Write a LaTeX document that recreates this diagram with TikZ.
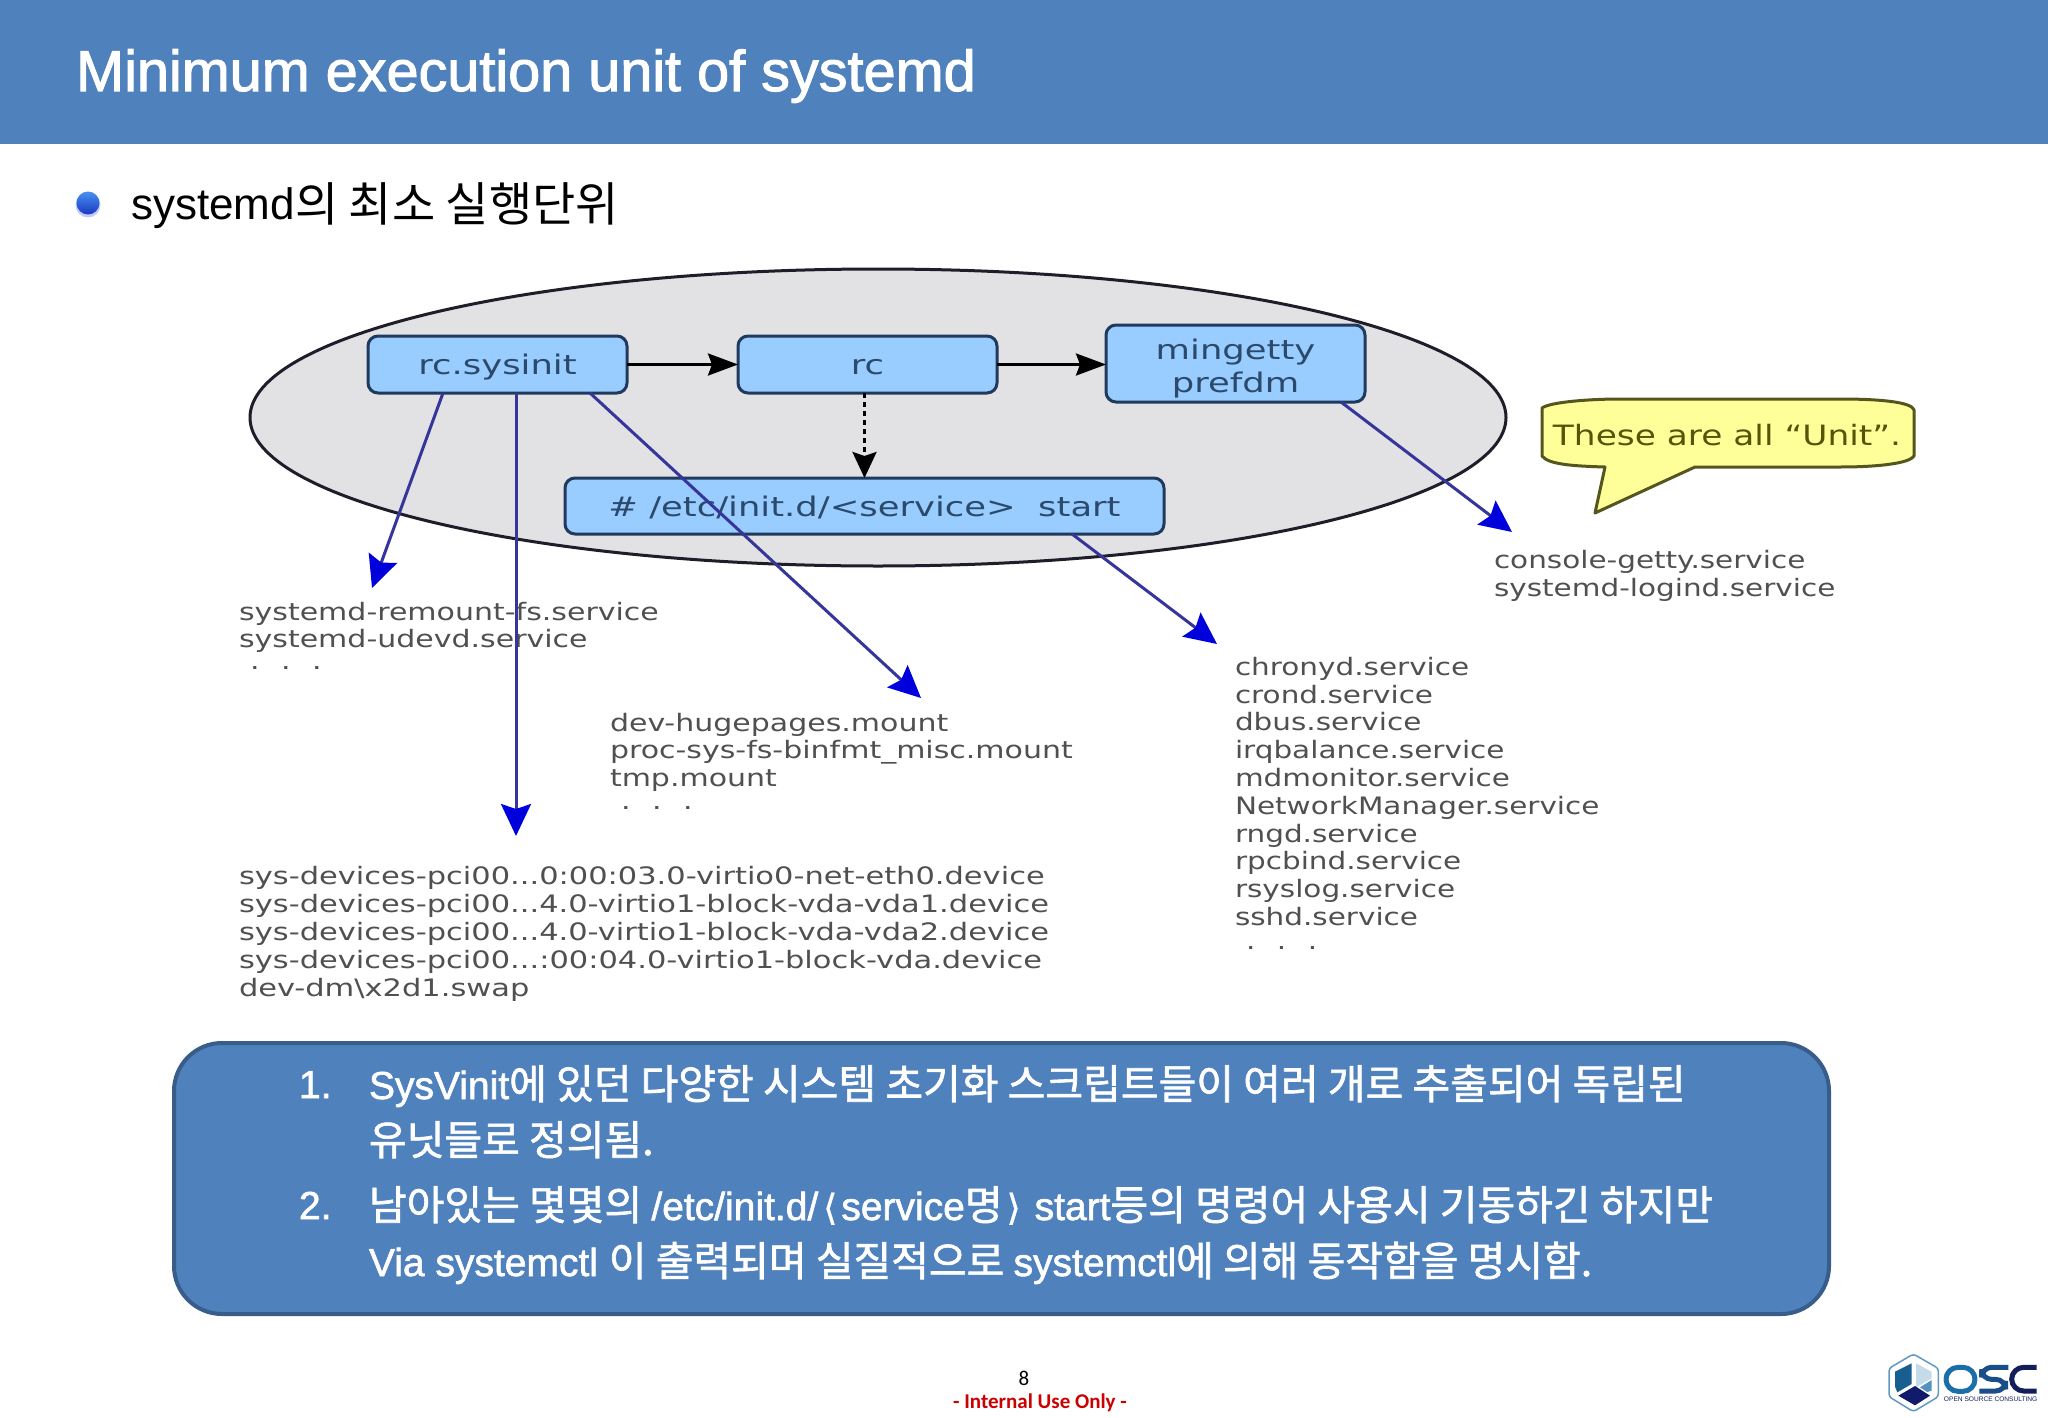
\documentclass[tikz,border=0pt]{standalone}
\usepackage{fontspec}
\usetikzlibrary{arrows.meta,shapes.geometric}
\setmainfont{Liberation Sans}
\newfontfamily\krfont{Noto Sans CJK KR}
\newfontfamily\titlefont[FakeBold=1.8]{Liberation Sans}
\newfontfamily\krbold[FakeBold=1.6]{Noto Sans CJK KR}
\newfontfamily\latbold[FakeBold=1.6]{Liberation Sans}
\newfontfamily\bracket[FakeBold=1]{DejaVu Sans}
\newfontfamily\veraunit[FakeStretch=1.31]{DejaVu Sans}
\newfontfamily\veralist[FakeStretch=1.25]{DejaVu Sans}
\newfontfamily\veralong[FakeStretch=1.27]{DejaVu Sans}
\newfontfamily\verawide[FakeStretch=1.228]{DejaVu Sans}
\newfontfamily\carlito{Carlito}
\newcommand{\FS}[2]{\fontsize{#1}{#2}\selectfont}
\newcommand{\KR}[1]{{\krfont\FS{47}{48}#1}}
\newcommand{\KB}[1]{{\krbold\FS{41}{44}#1}}
\newcommand{\LB}[1]{{\latbold\FS{39}{44}#1}}
\newcommand{\BR}[1]{{\bracket\FS{36}{44}#1}}
\newcommand{\threedots}{\hspace*{11pt}.\hspace{21.5pt}.\hspace{21.5pt}.}
\newcommand{\unitstrut}{\rule[-8pt]{0pt}{35pt}}
\definecolor{headblue}{HTML}{4F81BD}
\definecolor{boxedge}{HTML}{385D8A}
\definecolor{ellfill}{HTML}{E2E2E4}
\definecolor{ellline}{HTML}{1E1E2A}
\definecolor{unitfill}{HTML}{99CCFF}
\definecolor{unitline}{HTML}{1F3A5C}
\definecolor{unittext}{HTML}{2B4A6B}
\definecolor{listtext}{HTML}{505050}
\definecolor{linkline}{HTML}{35359A}
\definecolor{linkhead}{HTML}{0000DD}
\definecolor{callfill}{HTML}{FFFF99}
\definecolor{callline}{HTML}{55551E}
\definecolor{calltext}{HTML}{55550A}
\definecolor{logoblue}{HTML}{1C6EA8}
\definecolor{logonavy}{HTML}{141E5A}
\definecolor{balltop}{HTML}{4A90F0}
\definecolor{ballbot}{HTML}{1838C0}
\definecolor{ballhalo}{HTML}{C4C8FA}
\tikzset{
  unitbox/.style={draw=unitline,fill=unitfill,line width=3pt,rounded corners=10pt,inner sep=0pt,outer sep=0pt,text=unittext,align=center,font=\veraunit\FS{27}{32.6}},
  listtxt/.style={anchor=north west,inner sep=0pt,outer sep=0pt,align=left,text=listtext,font=\veralist\FS{24}{27.6}},
  flowlink/.style={line width=3pt,black,-{Stealth[length=30pt,width=22pt,inset=4pt]}},
  dotlink/.style={line width=3pt,black,dash pattern=on 5pt off 4pt,-{Stealth[length=26pt,width=24pt,inset=4pt]}},
  bluelink/.style={line width=3pt,linkline,-{Stealth[length=32pt,width=30pt,inset=5pt,color=linkhead,fill=linkhead]}},
  bodyline/.style={anchor=base west,inner sep=0pt,outer sep=0pt,text=white,font=\latbold\FS{39}{44}}
}
\begin{document}
\begin{tikzpicture}[x=1pt,y=-1pt]
\useasboundingbox (0,0) rectangle (2048,1418);
\fill[white] (0,0) rectangle (2048,1418);
% header
\fill[headblue] (0,0) rectangle (2048,144);
\node[anchor=base west,inner sep=0pt,text=white,font=\titlefont\FS{57.6}{60}] (title) at (76,91) {Minimum execution unit of systemd};
% bullet
\fill[ballhalo] (88,205) circle (12.5);
\shade[top color=balltop,bottom color=ballbot] (88,203) circle (11.5);
\node[anchor=base west,inner sep=0pt,font=\FS{44}{48}] (sub) at (131,219) {systemd\raisebox{-2pt}{\KR{의 최소 실행단위}}};
% ellipse
\node[ellipse,draw=ellline,fill=ellfill,line width=3pt,minimum width=1256pt,minimum height=297pt,inner sep=0pt,outer sep=0pt] (group) at (878,417.5) {};
% boxes
\node[unitbox,minimum width=259pt,minimum height=57pt] (sysinit) at (497.5,364.5) {\unitstrut rc.sysinit};
\node[unitbox,minimum width=259pt,minimum height=57pt] (rc) at (867.5,364.5) {\unitstrut rc};
\node[unitbox,minimum width=259pt,minimum height=77pt] (mingetty) at (1235.5,363.5) {\rule{0pt}{31pt}mingetty\\prefdm};
\node[unitbox,minimum width=599pt,minimum height=56pt] (initd) at (864.5,506) {\rule[-8pt]{0pt}{37.4pt}\# /etc/init.d/<service>\ \ start};
% lists
\node[listtxt] (listA) at (239,602) {systemd-remount-fs.service\\systemd-udevd.service\\[-6pt]\threedots};
\node[listtxt] (listB) at (610,713) {dev-hugepages.mount\\proc-sys-fs-binfmt\_misc.mount\\tmp.mount\\[-5pt]\threedots};
\node[listtxt,font=\veralong\FS{24}{28.1}] (listC) at (239,866) {sys-devices-pci00...0:00:03.0-virtio0-net-eth0.device\\sys-devices-pci00...4.0-virtio1-block-vda-vda1.device\\sys-devices-pci00...4.0-virtio1-block-vda-vda2.device\\sys-devices-pci00...:00:04.0-virtio1-block-vda.device\\dev-dm\textbackslash x2d1.swap};
\node[listtxt,font=\verawide\FS{24}{27.8}] (listD) at (1235,657) {chronyd.service\\crond.service\\dbus.service\\irqbalance.service\\mdmonitor.service\\NetworkManager.service\\rngd.service\\rpcbind.service\\rsyslog.service\\sshd.service\\[-4pt]\threedots};
\node[listtxt,font=\verawide\FS{24}{28.6}] (listE) at (1494,550) {console-getty.service\\systemd-logind.service};
% callout
\draw[fill=callfill,draw=callline,line width=3pt,line join=round] (1542,408) .. controls (1550,402) and (1590,399) .. (1620,399) -- (1840,399) .. controls (1880,399) and (1912,402) .. (1914,410) -- (1914,456) .. controls (1910,463) and (1880,467) .. (1840,467) -- (1695,467) -- (1595,513) -- (1605,467) .. controls (1570,466) and (1548,464) .. (1542,456) -- cycle;
\node[inner sep=0pt,text=calltext,font=\verawide\FS{28}{32}] (calltxt) at (1727,435) {These are all “Unit”.};
% free ends
\coordinate (endA) at (372,588);
\coordinate (endC) at (516,836);
\coordinate (endB) at (921,698);
\coordinate (endD) at (1217,644);
\coordinate (endE) at (1512,532);
% connectors
\draw[flowlink] (sysinit.east) -- (rc.west);
\draw[flowlink] (rc.east) -- (mingetty.west |- rc.east);
\draw[dotlink] (initd.north |- rc.south) -- (initd.north);
\draw[bluelink] ([xshift=75pt]sysinit.south west) -- (endA);
\draw[bluelink] ([xshift=148pt]sysinit.south west) -- (endC);
\draw[bluelink] ([xshift=222pt]sysinit.south west) -- (endB);
\draw[bluelink] ([xshift=507pt]initd.south west) -- (endD);
\draw[bluelink] ([xshift=235pt]mingetty.south west) -- (endE);
% bottom box
\node[draw=boxedge,fill=headblue,line width=4pt,rounded corners=48pt,minimum width=1655pt,minimum height=271pt,inner sep=0pt,outer sep=0pt] (note) at (1001.5,1178.5) {};
\node[bodyline] (n1) at (299,1098) {1.};
\node[bodyline] (l1) at (369,1099) {\LB{SysVinit}\KB{에 있던 다양한 시스템 초기화 스크립트들이 여러 개로 추출되어 독립된}};
\node[bodyline] (l2) at (369,1155) {\KB{유닛들로 정의됨.}};
\node[bodyline] (n2) at (299,1219) {2.};
\node[bodyline] (l3) at (369,1220) {\KB{남아있는 몇몇의 }\LB{/etc/init.d/}\hspace{5pt}\BR{⟨}\hspace{4pt}\LB{service}\KB{명}\hspace{4pt}\BR{⟩}\hspace{14pt}\LB{start}\KB{등의 명령어 사용시 기동하긴 하지만}};
\node[bodyline] (l4) at (369,1276) {\LB{Via systemctl }\KB{이 출력되며 실질적으로 }\LB{systemctl}\KB{에 의해 동작함을 명시함.}};
% footer
\node[inner sep=0pt,font=\carlito\FS{21}{24}] (page) at (1024,1378) {8};
\node[inner sep=0pt,text=red!80!black,font=\carlito\bfseries\FS{21}{24}] (only) at (1040,1403) {- Internal Use Only -};
% logo
\begin{scope}[shift={(1840,1330)},x=.3333pt,y=-.3333pt]
\draw[draw=logoblue!70!white,line width=1.5pt,rounded corners=3pt] (220,72) -- (295,115) -- (295,200) -- (220,245) -- (147,200) -- (147,115) -- cycle;
\fill[logoblue!85!black] (215,100) -- (215,162) -- (172,187) -- (165,170) -- (165,125) -- cycle;
\fill[logoblue!25!white] (228,100) -- (275,125) -- (275,145) -- (228,172) -- cycle;
\fill[logoblue!75!white] (240,172) -- (275,150) -- (275,182) -- (262,186) -- cycle;
\fill[logonavy!90!blue] (175,197) -- (225,168) -- (270,197) -- (225,226) -- cycle;
\draw[logoblue,line width=5pt,rounded corners=12pt] (318,112) rectangle (405,184);
\draw[logoblue!60!logonavy,line width=5pt,rounded corners=10pt] (505,112) -- (425,112) -- (425,148) -- (497,148) -- (497,183) -- (418,183);
\draw[logonavy,line width=5pt,rounded corners=12pt] (590,112) -- (515,112) -- (515,183) -- (590,183);
\node[inner sep=0pt,text=logonavy,font=\FS{6.6}{8}] (logotxt) at (452,208) {OPEN SOURCE CONSULTING};
\end{scope}
\end{tikzpicture}
\end{document}
